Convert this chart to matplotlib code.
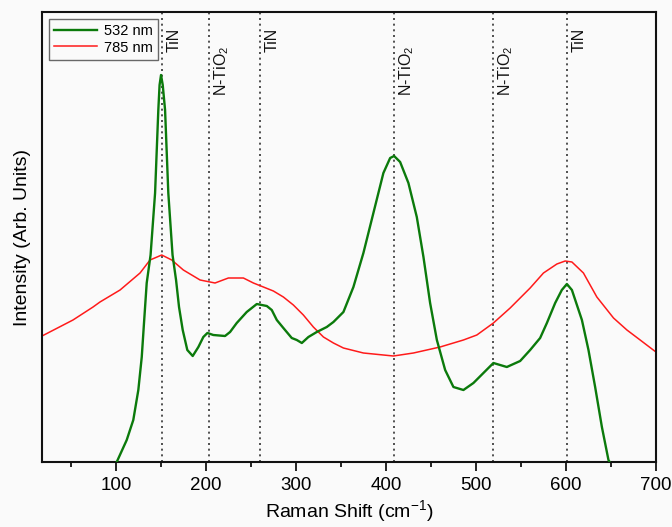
import matplotlib
matplotlib.use("Agg")
import matplotlib.pyplot as plt
from matplotlib.ticker import MultipleLocator, NullLocator

plt.rcParams['font.family'] = ['Liberation Sans', 'DejaVu Sans']
plt.rcParams['mathtext.fontset'] = 'custom'
plt.rcParams['mathtext.rm'] = 'Liberation Sans'
plt.rcParams['mathtext.default'] = 'regular'

# 532 nm spectrum (Raman shift, intensity in arbitrary units)
g_x = [101.0, 112.1, 119.4, 125.0, 128.8, 131.3, 134.3, 138.6, 143.6, 147.2, 148.6,
       150.2, 152.1, 154.7, 158.3, 163.0, 166.9, 170.2, 174.3, 179.4, 185.4, 191.7,
       197.2, 201.7, 208.3, 221.3, 226.9, 234.3, 245.4, 256.6, 267.7, 273.2, 278.8,
       286.1, 295.4, 301.0, 306.6, 313.9, 323.2, 334.3, 341.7, 352.8, 363.9, 375.0,
       386.1, 397.2, 404.7, 409.1, 415.8, 425.0, 434.3, 441.7, 449.1, 456.6, 465.8,
       475.0, 486.1, 497.2, 508.3, 519.4, 534.3, 549.1, 560.2, 571.3, 578.8, 588.0,
       595.4, 601.0, 606.6, 617.7, 625.0, 632.4, 639.9, 647.2, 648.5]
g_y = [0, 22, 42, 72, 105, 139, 179, 207, 269, 352, 377,
       387, 377, 352, 269, 207, 182, 155, 132, 112, 106, 115,
       125, 129, 127, 126, 130, 139, 150, 158, 156, 152, 142,
       134, 124, 122, 119, 125, 130, 135, 140, 150, 175, 209,
       249, 289, 304, 306, 300, 279, 245, 205, 159, 122, 92,
       75, 72, 79, 89, 99, 95, 101, 112, 124, 139, 159,
       172, 178, 172, 142, 112, 75, 35, 2, 0]

# 785 nm spectrum
r_x = [18.0, 52.4, 74.7, 82.4, 104.7, 126.9, 138.0, 151.0, 162.1, 175.0, 193.6,
       210.2, 225.0, 241.7, 252.8, 263.9, 275.0, 286.1, 297.2, 308.3, 319.4, 330.6,
       341.7, 352.8, 375.0, 408.3, 430.6, 460.2, 486.1, 501.0, 519.4, 538.0, 560.2,
       575.0, 589.9, 599.1, 606.6, 619.4, 634.3, 652.8, 667.7, 682.4, 697.0, 700.0]
r_y = [126, 142, 155, 160, 172, 189, 202, 207, 202, 192, 182,
       179, 184, 184, 179, 175, 171, 165, 157, 147, 135, 125,
       119, 114, 109, 106, 109, 115, 122, 127, 139, 154, 174,
       189, 198, 201, 200, 189, 165, 144, 132, 122, 112, 110]

# Peak assignments
peak_pos = [151, 203, 260, 409, 519, 601]
peak_labels = ['TiN', 'N-TiO$_2$', 'TiN', 'N-TiO$_2$', 'N-TiO$_2$', 'TiN']

bg = '#fafafa'
fig = plt.figure(figsize=(6.72, 5.27), dpi=100, facecolor=bg)
ax = fig.add_axes([42/672, 65/527, 614/672, 450/527])
ax.set_facecolor(bg)

for p in peak_pos:
    ax.axvline(p, color='#333333', linestyle=(0, (1.2, 2.2)), linewidth=1.2, zorder=1)

ax.plot(g_x, g_y, color='#0b7a0b', linewidth=1.7, label='532 nm', zorder=3,
        solid_joinstyle='round')
ax.plot(r_x, r_y, color='#ff1a1a', linewidth=1.1, label='785 nm', zorder=2,
        solid_joinstyle='round')

for p, lab in zip(peak_pos, peak_labels):
    ytop = 434 if lab == 'TiN' else 416
    ax.text(p + 14, ytop, lab, rotation=90, ha='center', va='top', fontsize=11.5, color='#111111')

ax.set_xlim(18, 700)
ax.set_ylim(0, 450)
ax.xaxis.set_major_locator(MultipleLocator(100))
ax.xaxis.set_minor_locator(MultipleLocator(50))
ax.yaxis.set_major_locator(NullLocator())
ax.tick_params(axis='x', which='major', direction='out', length=6.5, width=1.2, labelsize=13.5, pad=4)
ax.tick_params(axis='x', which='minor', direction='out', length=3.5, width=1.2)
for s in ax.spines.values():
    s.set_linewidth(1.5)
    s.set_color('#111111')

ax.set_xlabel('Raman Shift (cm$^{-1}$)', fontsize=14, labelpad=3)
ax.set_ylabel('Intensity (Arb. Units)', fontsize=14, labelpad=8)

leg = ax.legend(loc='upper left', fontsize=10.5, frameon=True, fancybox=False,
                edgecolor='#444444', handlelength=2.9, borderpad=0.35,
                labelspacing=0.15, handletextpad=0.5, bbox_to_anchor=(0.0, 1.0),
                borderaxespad=0.5)
leg.get_frame().set_linewidth(1.0)
leg.get_frame().set_facecolor(bg)

fig.savefig('out.png', dpi=100, facecolor=bg)
